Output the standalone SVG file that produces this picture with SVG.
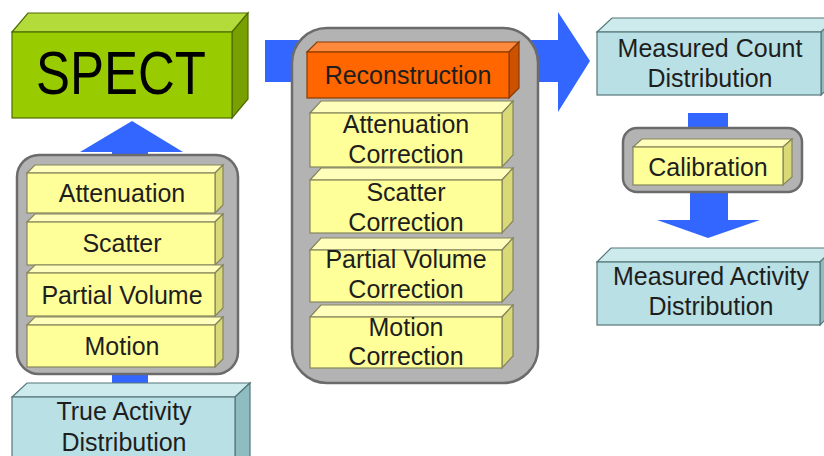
<svg xmlns="http://www.w3.org/2000/svg" width="824" height="456" viewBox="0 0 824 456">
<style>
.t{font-family:"Liberation Sans",Arial,sans-serif;font-size:25px;fill:#1e1e1e;text-anchor:middle}
.gf{fill:#99cc00;stroke:#506b00;stroke-width:1.2}
.gt{fill:#b3db3a;stroke:#506b00;stroke-width:1.2}
.gs{fill:#78a000;stroke:#506b00;stroke-width:1.2}
.of{fill:#ff6600;stroke:#8a3a00;stroke-width:1.2}
.ot{fill:#ff8a3d;stroke:#8a3a00;stroke-width:1.2}
.os{fill:#cc5200;stroke:#8a3a00;stroke-width:1.2}
.yf{fill:#ffff99;stroke:#85855c;stroke-width:1.2}
.yt{fill:#ffffbb;stroke:#85855c;stroke-width:1.2}
.ys{fill:#d9d978;stroke:#85855c;stroke-width:1.2}
.cf{fill:#b9e0e4;stroke:#56777a;stroke-width:1.2}
.ct{fill:#cdeaed;stroke:#56777a;stroke-width:1.2}
.cs{fill:#8fbcc1;stroke:#56777a;stroke-width:1.2}
.cont{fill:#b3b3b3;stroke:#6b6b6b;stroke-width:2.5}
.arr{fill:#3366ff}
</style>
<rect width="824" height="456" fill="#ffffff"/>
<g id="connectors">
  <polygon class="arr" points="112,165 148,165 148,152 183,152 132,121 80,152 112,152"/>
  <rect class="arr" x="112" y="368" width="36" height="20"/>
  <polygon class="arr" points="265,40 558,40 558,12 590,61 558,112 558,82 265,82"/>
  <rect class="arr" x="688" y="113" width="40" height="20"/>
  <polygon class="arr" points="690,188 728,188 728,220 760,220 708,238 657,220 690,220"/>
</g>
<g id="spect">
  <polygon class="gt" points="12,32 28,13 248,13 232,32"/>
  <polygon class="gs" points="232,32 248,13 248,99 232,118"/>
  <rect class="gf" x="12" y="32" width="220" height="86"/>
  <text class="t" transform="translate(121,94) scale(1,1.18)" style="font-size:51px;fill:#000">SPECT</text>
</g>
<g id="left-container">
  <rect class="cont" x="17" y="155" width="221" height="219" rx="22"/>
</g>
<g id="attenuation">
  <polygon class="yt" points="27,173 35,165 223,165 215,173"/>
  <polygon class="ys" points="215,173 223,165 223,205 215,213"/>
  <rect class="yf" x="27" y="173" width="188" height="40"/>
  <text class="t" x="122" y="202">Attenuation</text>
</g>
<g id="scatter">
  <polygon class="yt" points="27,222 35,214 223,214 215,222"/>
  <polygon class="ys" points="215,222 223,214 223,257 215,265"/>
  <rect class="yf" x="27" y="222" width="188" height="43"/>
  <text class="t" x="122" y="252">Scatter</text>
</g>
<g id="partial-volume">
  <polygon class="yt" points="27,273 35,265 223,265 215,273"/>
  <polygon class="ys" points="215,273 223,265 223,308 215,316"/>
  <rect class="yf" x="27" y="273" width="188" height="43"/>
  <text class="t" x="122" y="304">Partial Volume</text>
</g>
<g id="motion">
  <polygon class="yt" points="27,325 35,317 223,317 215,325"/>
  <polygon class="ys" points="215,325 223,317 223,359 215,367"/>
  <rect class="yf" x="27" y="325" width="188" height="42"/>
  <text class="t" x="122" y="355">Motion</text>
</g>
<g id="true-activity">
  <polygon class="ct" points="12,397 27,383 250,383 235,397"/>
  <polygon class="cs" points="235,397 250,383 250,460 235,470"/>
  <rect class="cf" x="12" y="397" width="223" height="70"/>
  <text class="t" x="124" y="420">True Activity</text>
  <text class="t" x="124" y="451">Distribution</text>
</g>
<g id="middle-container">
  <rect class="cont" x="292" y="28" width="246" height="355" rx="35"/>
</g>
<g id="reconstruction">
  <polygon class="ot" points="307,52 317,42 519,42 509,52"/>
  <polygon class="os" points="509,52 519,42 519,88 509,98"/>
  <rect class="of" x="307" y="52" width="202" height="46"/>
  <text class="t" x="408" y="84">Reconstruction</text>
</g>
<g id="attenuation-correction">
  <polygon class="yt" points="310,113 321,101 513,101 502,113"/>
  <polygon class="ys" points="502,113 513,101 513,155 502,167"/>
  <rect class="yf" x="310" y="113" width="192" height="54"/>
  <text class="t" x="406" y="133">Attenuation</text>
  <text class="t" x="406" y="163">Correction</text>
</g>
<g id="scatter-correction">
  <polygon class="yt" points="310,180 321,168 513,168 502,180"/>
  <polygon class="ys" points="502,180 513,168 513,221 502,233"/>
  <rect class="yf" x="310" y="180" width="192" height="53"/>
  <text class="t" x="406" y="201">Scatter</text>
  <text class="t" x="406" y="231">Correction</text>
</g>
<g id="partial-volume-correction">
  <polygon class="yt" points="310,250 321,238 513,238 502,250"/>
  <polygon class="ys" points="502,250 513,238 513,290 502,302"/>
  <rect class="yf" x="310" y="250" width="192" height="52"/>
  <text class="t" x="406" y="268">Partial Volume</text>
  <text class="t" x="406" y="298">Correction</text>
</g>
<g id="motion-correction">
  <polygon class="yt" points="310,317 321,305 513,305 502,317"/>
  <polygon class="ys" points="502,317 513,305 513,356 502,368"/>
  <rect class="yf" x="310" y="317" width="192" height="51"/>
  <text class="t" x="406" y="336">Motion</text>
  <text class="t" x="406" y="365">Correction</text>
</g>
<g id="measured-count">
  <polygon class="ct" points="597,32 612,18 836,18 821,32"/>
  <polygon class="cs" points="821,32 836,18 836,81 821,95"/>
  <rect class="cf" x="597" y="32" width="224" height="63"/>
  <text class="t" x="710" y="57">Measured Count</text>
  <text class="t" x="710" y="87">Distribution</text>
</g>
<g id="calibration-container">
  <rect class="cont" x="623" y="128" width="179" height="64" rx="14"/>
</g>
<g id="calibration">
  <polygon class="yt" points="633,147 642,139 792,139 783,147"/>
  <polygon class="ys" points="783,147 792,139 792,177 783,185"/>
  <rect class="yf" x="633" y="147" width="150" height="38"/>
  <text class="t" x="708" y="176">Calibration</text>
</g>
<g id="measured-activity">
  <polygon class="ct" points="597,262 611,248 834,248 820,262"/>
  <polygon class="cs" points="820,262 834,248 834,311 820,325"/>
  <rect class="cf" x="597" y="262" width="223" height="63"/>
  <text class="t" x="711" y="285">Measured Activity</text>
  <text class="t" x="711" y="315">Distribution</text>
</g>
</svg>
